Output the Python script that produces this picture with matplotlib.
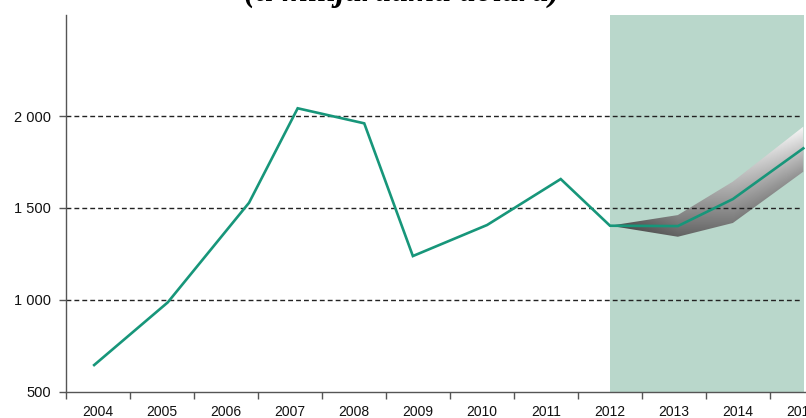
# Cropped line chart with a shaded forecast period and a grey fan band
import numpy as np
import matplotlib
matplotlib.use("Agg")
import matplotlib.pyplot as plt
from matplotlib.patches import Polygon

# Data (x as decimal year positions)
years = [2004, 2005, 2006, 2007, 2008, 2009, 2010, 2011, 2012, 2013, 2014, 2015]
t = [2003.94, 2005.09, 2006.36, 2007.12, 2008.16, 2008.92,
     2010.08, 2011.23, 2012.0, 2013.06, 2013.92, 2015.02]
values = [645, 986, 1528, 2042, 1960, 1238, 1407, 1657, 1403, 1401, 1548, 1824]

# forecast fan (from 2012 on)
fan_t = t[8:]
fan_upper = [1403, 1461, 1643, 1942]
fan_lower = [1403, 1343, 1418, 1697]

forecast_start = 2012.0
forecast_end = 2015.03
yticks = [500, 1000, 1500, 2000]
ytick_labels = ["500", "1 000", "1 500", "2 000"]
title = "(u milijardama dolara)"

green = "#17967a"
shade = "#b9d7cb"
axis_col = "#555555"

W, H = 806, 418
fig = plt.figure(figsize=(W / 100, H / 100), dpi=100)
# axes run past the right edge of the picture, like the cropped original
left_px, right_px, top_px, bottom_px = 66, 834, 15, 391.7
ax = fig.add_axes([left_px / W, 1 - bottom_px / H,
                   (right_px - left_px) / W, (bottom_px - top_px) / H])
ax.set_xlim(2003.5, 2015.5)
ax.set_ylim(500, 500 + (bottom_px - top_px) / 0.1838)

# forecast shading
ax.axvspan(forecast_start, forecast_end, color=shade, lw=0, zorder=0)

# fan band with a grey gradient, clipped to the band outline
xs = np.linspace(forecast_start, fan_t[-1], 300)
ys = np.linspace(1300, 2000, 300)
X, Y = np.meshgrid(xs, ys)
lo = np.interp(X, fan_t, fan_lower)
hi = np.interp(X, fan_t, fan_upper)
u = np.clip((Y - lo) / np.maximum(hi - lo, 1e-6), 0, 1)
s = (X - forecast_start) / (fan_t[-1] - forecast_start)
shade_val = 0.28 + 0.30 * s + 0.38 * u * s
img = ax.imshow(shade_val, extent=[xs[0], xs[-1], ys[0], ys[-1]], origin="lower",
                cmap="gray", vmin=0, vmax=1, aspect="auto", zorder=1,
                interpolation="bilinear")
band = Polygon(list(zip(fan_t, fan_upper)) + list(zip(fan_t[::-1], fan_lower[::-1])),
               closed=True, facecolor="none", edgecolor="none", transform=ax.transData)
ax.add_patch(band)
img.set_clip_path(band)

# dashed reference lines
ax.hlines([1000, 1500, 2000], 2003.5, 2014.97, colors="#222222",
          linestyles=(0, (3.5, 2.2)), lw=1.0, zorder=2)

# main series
ax.plot(t, values, color=green, lw=1.9, zorder=3, solid_joinstyle="miter")

# axes styling
for side in ["top", "right"]:
    ax.spines[side].set_visible(False)
for side in ["left", "bottom"]:
    ax.spines[side].set_color(axis_col)
    ax.spines[side].set_linewidth(1.0)

ax.set_yticks(yticks)
ax.set_yticklabels(ytick_labels)
ax.set_xticks(years)
ax.set_xticklabels([str(y) for y in years])
ax.set_xticks([y - 0.5 for y in years], minor=True)
ax.tick_params(axis="y", direction="out", length=5, width=1, color=axis_col,
               pad=6, labelsize=10.5, labelcolor="#111111")
ax.tick_params(axis="x", which="major", length=0, pad=9.5, labelsize=10,
               labelcolor="#111111")
ax.tick_params(axis="x", which="minor", direction="out", length=5, width=1,
               color=axis_col)
for lab in ax.get_xticklabels() + ax.get_yticklabels():
    lab.set_family("Liberation Sans")

# title, mostly cut off at the top as in the original
fig.text(402 / W, 1 - 0.5 / H, title, ha="center", va="baseline",
         fontsize=24, style="italic", weight="bold", family="Liberation Serif")

fig.savefig("out.png", dpi=100)
